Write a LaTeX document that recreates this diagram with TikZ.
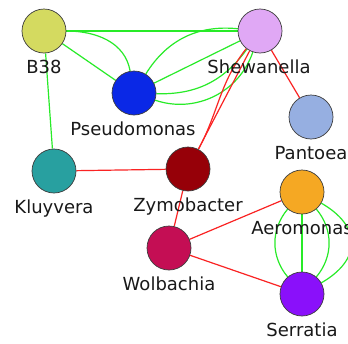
\documentclass[tikz,border=0pt]{standalone}
\usepackage{fontspec}
\setmainfont{DejaVu Sans}
\usetikzlibrary{backgrounds}

\definecolor{cB38}{RGB}{212,218,96}
\definecolor{cShew}{RGB}{224,168,245}
\definecolor{cPseu}{RGB}{10,40,230}
\definecolor{cPant}{RGB}{150,175,225}
\definecolor{cKluy}{RGB}{40,160,160}
\definecolor{cZymo}{RGB}{150,0,8}
\definecolor{cAero}{RGB}{245,168,35}
\definecolor{cWolb}{RGB}{196,14,84}
\definecolor{cSerr}{RGB}{138,16,250}
\definecolor{linkgreen}{RGB}{40,235,40}
\definecolor{linkred}{RGB}{250,35,35}
\definecolor{rimgray}{RGB}{60,60,60}
\definecolor{inkgray}{RGB}{25,25,25}

\begin{document}
\begin{tikzpicture}[x=1pt,y=1pt,
  taxon/.style={circle, draw=rimgray, line width=0.7pt, minimum size=44pt, inner sep=0pt},
  taxlbl/.style={anchor=base, inner sep=0pt, text=inkgray,
                 font=\fontsize{18}{20}\selectfont},
  poslink/.style={draw=linkgreen, line width=1.2pt},
  neglink/.style={draw=linkred, line width=1.2pt}]

  \useasboundingbox (0,0) rectangle (348,-343);

  % taxa
  \node[taxon, fill=cB38]  (B38)  at (44,-31)   {};
  \node[taxon, fill=cShew] (Shew) at (260,-31)  {};
  \node[taxon, fill=cPseu] (Pseu) at (134,-93)  {};
  \node[taxon, fill=cPant] (Pant) at (311,-117) {};
  \node[taxon, fill=cKluy] (Kluy) at (54,-171)  {};
  \node[taxon, fill=cZymo] (Zymo) at (188,-169) {};
  \node[taxon, fill=cAero] (Aero) at (302,-192) {};
  \node[taxon, fill=cWolb] (Wolb) at (169,-248) {};
  \node[taxon, fill=cSerr] (Serr) at (302,-294) {};

  % white canvas and links, kept under the discs
  \begin{scope}[on background layer]
    \fill[white] (0,0) rectangle (348,-343);
    % positive (green)
    \draw[poslink] (B38) -- (Shew);
    \draw[poslink] (B38) to[out=0, in=100] (Pseu);
    \draw[poslink] (B38) -- (Pseu);
    \draw[poslink] (B38) -- (Kluy);
    \draw[poslink] (Pseu) to[bend left=32] (Shew);
    \draw[poslink] (Pseu) -- (Shew);
    \draw[poslink] (Pseu) to[bend right=28] (Shew);
    \draw[poslink] (Pseu) to[bend right=45] (Shew);
    \draw[poslink] (Aero) to[bend right=40] (Serr);
    \draw[poslink] (Aero) -- (Serr);
    \draw[poslink] (Aero) to[bend left=40] (Serr);
    \draw[poslink] (Aero) to[bend left=60, looseness=1.5] (Serr);
    % negative (red)
    \draw[neglink] (Shew) -- (Pant);
    \draw[neglink] (Shew) -- (Zymo);
    \draw[neglink] (Shew) to[out=-128, in=62] (Zymo);
    \draw[neglink] (Kluy) -- (Zymo);
    \draw[neglink] (Zymo) -- (Wolb);
    \draw[neglink] (Wolb) -- (Aero);
    \draw[neglink] (Wolb) -- (Serr);
  \end{scope}

  % names
  \node[taxlbl] (lB38)  at (44,-73)   {B38};
  \node[taxlbl] (lShew) at (259,-73)  {Shewanella};
  \node[taxlbl] (lPseu) at (133,-135) {Pseudomonas};
  \node[taxlbl] (lPant) at (311,-159) {Pantoea};
  \node[taxlbl] (lKluy) at (54,-213)  {Kluyvera};
  \node[taxlbl] (lZymo) at (188,-211) {Zymobacter};
  \node[taxlbl] (lAero) at (302,-234) {Aeromonas};
  \node[taxlbl] (lWolb) at (169,-290) {Wolbachia};
  \node[taxlbl] (lSerr) at (302,-336) {Serratia};
\end{tikzpicture}
\end{document}
